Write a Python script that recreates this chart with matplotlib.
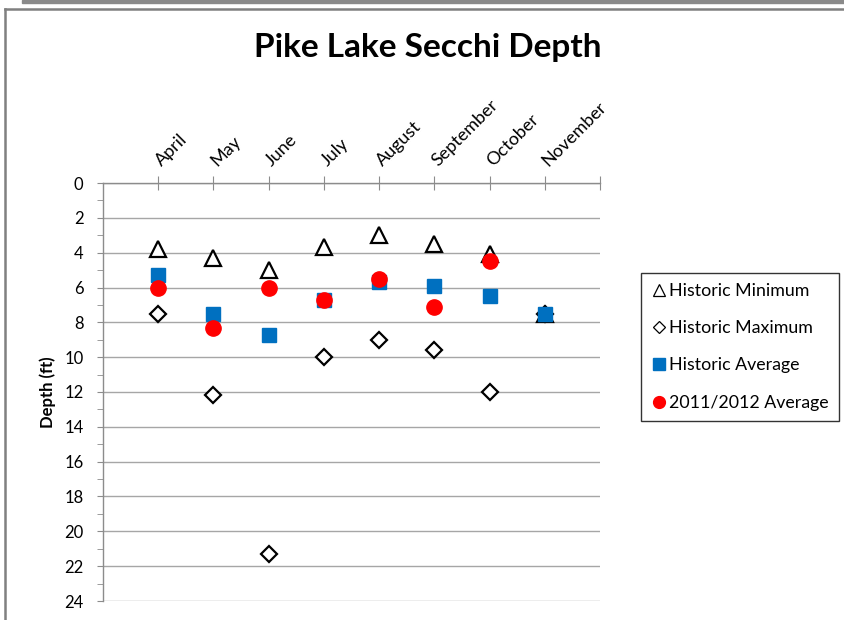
import numpy as np
import matplotlib.pyplot as plt
from matplotlib.lines import Line2D

months = ["April", "May", "June", "July", "August", "September", "October", "November"]
hist_min = [3.8, 4.3, 5.0, 3.7, 3.0, 3.5, 4.1, 7.5]
hist_max = [7.5, 12.2, 21.3, 10.0, 9.0, 9.6, 12.0, 7.5]
hist_avg = [5.3, 7.5, 8.7, 6.7, 5.7, 5.9, 6.5, 7.5]
avg_2011 = [6.0, 8.3, 6.0, 6.7, 5.5, 7.1, 4.5, np.nan]
y_ticks = list(range(0, 25, 2))

plt.rcParams['font.family'] = ['Lato', 'DejaVu Sans']

fig = plt.figure(figsize=(8.45, 6.2), dpi=100)

# chart area border (top and left edges visible) and the shadow bar above
W, H = 845, 620
fig.add_artist(Line2D([5 / W, 1], [1 - 8.5 / H, 1 - 8.5 / H], color='#808080',
                      linewidth=1.8, transform=fig.transFigure))
fig.add_artist(Line2D([5 / W, 5 / W], [0, 1 - 8.5 / H], color='#808080',
                      linewidth=1.8, transform=fig.transFigure))
fig.add_artist(plt.Rectangle((22 / W, 1 - 3 / H), 1, 3 / H, color='#8a8a8a',
                             transform=fig.transFigure))

ax = fig.add_axes([103 / W, 19 / H, 497 / W, 418 / H])

x = np.arange(1, len(months) + 1)
ax.plot(x, hist_min, linestyle='none', marker='^', markersize=12,
        markerfacecolor='white', markeredgecolor='black', markeredgewidth=1.6)
ax.plot(x, hist_max, linestyle='none', marker='D', markersize=8,
        markerfacecolor='white', markeredgecolor='black', markeredgewidth=1.6)
ax.plot(x, hist_avg, linestyle='none', marker='s', markersize=10,
        color='#0070C0')
ax.plot(x, avg_2011, linestyle='none', marker='o', markersize=11,
        color='#FF0000')

ax.set_xlim(0, 9)
ax.set_ylim(24, 0)
ax.xaxis.tick_top()
ax.set_xticks(list(x) + [9])
ax.set_xticklabels(months + [""], rotation=45, ha='left', va='center',
                   rotation_mode='anchor', fontsize=13)
ax.tick_params(axis='x', direction='inout', length=10, color='#8c8c8c', pad=9)
ax.set_yticks(y_ticks)
ax.set_yticks(range(1, 24, 2), minor=True)
ax.tick_params(axis='y', which='both', direction='out', length=4,
               color='#8c8c8c', labelsize=12, pad=10)
ax.grid(axis='y', color='#a6a6a6', linewidth=1.0)
ax.set_axisbelow(True)

for side in ['right', 'bottom']:
    ax.spines[side].set_visible(False)
for side in ['left', 'top']:
    ax.spines[side].set_color('#8c8c8c')
    ax.spines[side].set_linewidth(1.0)

ax.set_ylabel("Depth (ft)", fontsize=12, fontweight='bold', labelpad=6)
fig.text(428 / W, 1 - 48 / H, "Pike Lake Secchi Depth", ha='center',
         va='center', fontsize=24, fontweight='bold')

handles = [
    Line2D([], [], linestyle='none', marker='^', markersize=9,
           markerfacecolor='white', markeredgecolor='black', markeredgewidth=0.9),
    Line2D([], [], linestyle='none', marker='D', markersize=6.5,
           markerfacecolor='white', markeredgecolor='black', markeredgewidth=0.9),
    Line2D([], [], linestyle='none', marker='s', markersize=8.5, color='#0070C0'),
    Line2D([], [], linestyle='none', marker='o', markersize=8.5, color='#FF0000'),
]
labels = ["Historic Minimum", "Historic Maximum", "Historic Average",
          "2011/2012 Average"]
leg = fig.legend(handles, labels, loc='upper left',
                 bbox_to_anchor=(641 / W, 1 - 273 / H),
                 frameon=True, fancybox=False, fontsize=12.8, handletextpad=0.15,
                 handlelength=0.9, labelspacing=1.2, borderpad=0.55,
                 borderaxespad=0)
leg.get_frame().set_edgecolor('black')
leg.get_frame().set_linewidth(1.0)

fig.savefig("out.png", dpi=100)
